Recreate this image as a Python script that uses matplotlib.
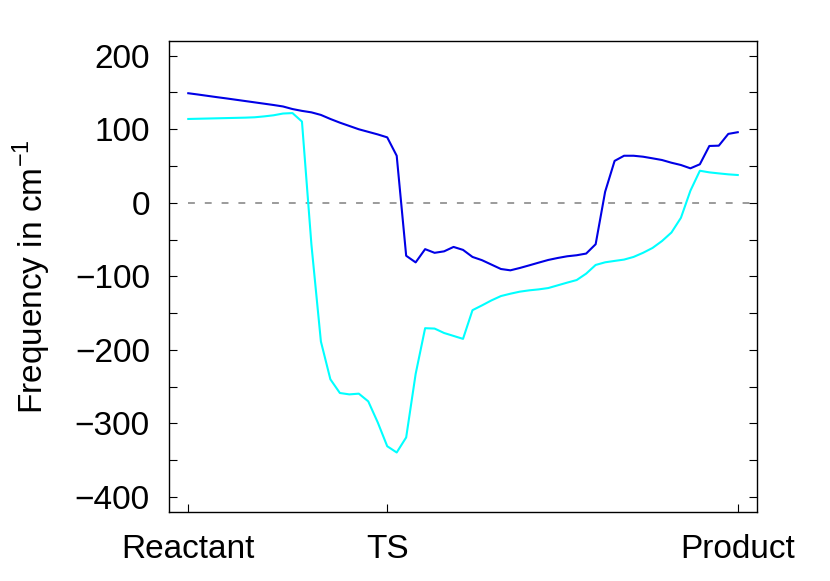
import numpy as np
import matplotlib
matplotlib.use('Agg')
import matplotlib.pyplot as plt
from matplotlib.ticker import MultipleLocator

plt.rcParams['font.family'] = ['Liberation Sans', 'DejaVu Sans']

# reaction path points, 0 = reactant ... 58 = product
step = np.arange(59)

# lower mode (dark blue)
freq_blue = [149, 147.3, 145.5, 143.7, 142, 140.2, 138.4, 136.6, 134.8, 133,
             131, 127.5, 125, 123, 119.5, 114, 109, 104.5, 100, 96.5,
             93, 89, 64, -72, -81, -63, -68, -66, -60, -64,
             -73.6, -78, -84, -90, -91.8, -88.6, -85, -81.3, -77.7, -75,
             -72.7, -71.3, -69, -56.3, 15, 57, 64, 64, 62.7, 60.5,
             58.2, 54.5, 51.4, 46.9, 52.4, 77.3, 77.7, 93.7, 96]

# other mode (cyan)
freq_cyan = [114, 114.3, 114.6, 114.9, 115.2, 115.5, 115.8, 116.3, 117.5, 119,
             121.4, 122, 110.5, -57, -188.6, -240, -258.6, -260.5, -259.5, -270,
             -298.6, -331, -339.5, -319, -232.7, -170.5, -171, -177, -181, -185,
             -146, -139.5, -132.7, -126.8, -123.6, -120.8, -119, -117.7, -115.9, -112.2,
             -108.5, -105, -96.3, -84.5, -80.9, -79, -77.2, -73.6, -68, -61.4,
             -52, -40.4, -20.4, 16.4, 43.6, 41.4, 40, 38.7, 37.8]

tick_pos = [0, 21, 58]
tick_lab = ['Reactant', 'TS', 'Product']

fs = 24

fig = plt.figure(figsize=(8.3, 5.81), dpi=100)
ax = fig.add_axes([0.204, 0.1193, 0.7077, 0.8101])

xmin, xmax = -2, 60
ax.hlines(0, step[0], xmax, colors='#808080', linestyles=(0, (4.5, 6.5)), linewidth=1.1)
ax.plot(step, freq_cyan, color='#00ffff', linewidth=1.5)
ax.plot(step, freq_blue, color='#0000e6', linewidth=1.5)

ax.set_xlim(xmin, xmax)
ax.set_ylim(-420, 220)
ax.set_xticks(tick_pos)
ax.set_xticklabels(tick_lab)
ax.yaxis.set_major_locator(MultipleLocator(100))
ax.yaxis.set_minor_locator(MultipleLocator(50))
ax.set_yticklabels([str(int(v)).replace('-', '\u2212') for v in ax.get_yticks()])
ax.tick_params(axis='y', which='both', direction='in', length=6, width=0.8,
               right=True, labelsize=fs, pad=14)
ax.tick_params(axis='x', direction='in', length=6, width=0.8, top=False,
               labelsize=fs, pad=16)
for s in ax.spines.values():
    s.set_linewidth(1.0)

ax.set_ylabel('Frequency in cm$^{\\mathregular{-1}}$', fontsize=fs, labelpad=16)

fig.savefig('out.png', dpi=100)
